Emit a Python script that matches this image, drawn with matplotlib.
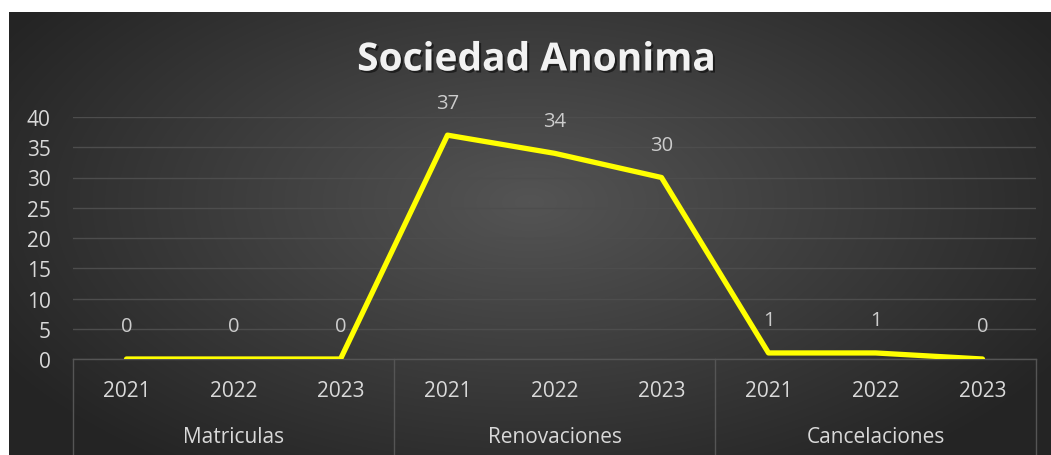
import numpy as np
import matplotlib.pyplot as plt
from matplotlib import patheffects
from matplotlib.transforms import blended_transform_factory

# Data
groups = ['Matriculas', 'Renovaciones', 'Cancelaciones']
years = ['2021', '2022', '2023']
values = [0, 0, 0, 37, 34, 30, 1, 1, 0]

W, H = 1051, 456
fig = plt.figure(figsize=(W / 100, H / 100), dpi=100)
fig.patch.set_facecolor('white')

# dark radial gradient background (chart area)
bg = fig.add_axes([9 / W, 0, (W - 9) / W, (H - 13) / H])
bg.set_axis_off()
yy, xx = np.mgrid[0:443, 0:1042]
r = np.sqrt(((xx - 520) / 620.0) ** 2 + ((yy - 190) / 330.0) ** 2)
shade = np.clip(0.33 - 0.19 * r, 0.145, 0.33)
bg.imshow(np.dstack([shade] * 3), aspect='auto', extent=[0, 1, 0, 1])

font = 'Open Sans'
txt = '#d9d9d9'

ax = fig.add_axes([73 / W, (H - 360) / H, (1036 - 73) / W, (360 - 118) / H])
ax.patch.set_alpha(0)
x = np.arange(len(values))
ax.plot(x, values, color='#ffff00', lw=3.8, solid_capstyle='round',
        solid_joinstyle='round', zorder=3)
for xi, v in zip(x, values):
    ax.annotate(str(v), (xi, v), xytext=(0, 23.5), textcoords='offset points',
                ha='center', va='center', color='#cccccc', fontsize=14.5,
                family=font)

ax.set_xlim(-0.5, len(values) - 0.5)
ax.set_ylim(0, 40)
ax.set_yticks(range(0, 41, 5))
ax.tick_params(axis='y', length=0, pad=16, labelsize=15, labelcolor=txt)
for lab in ax.get_yticklabels():
    lab.set_family(font)
ax.yaxis.grid(True, color='#4d4d4d', lw=1)
ax.set_axisbelow(True)
for s in ax.spines.values():
    s.set_visible(False)
ax.set_xticks(x)
ax.set_xticklabels([])
ax.tick_params(axis='x', length=0)

trans = blended_transform_factory(ax.transData, ax.transAxes)
axh = 242.0
for i in range(len(values)):
    ax.text(i, -32 / axh, years[i % 3], transform=trans, ha='center',
            va='center', color=txt, fontsize=15, family=font)
for g, name in enumerate(groups):
    ax.text(g * 3 + 1, -78 / axh, name, transform=trans, ha='center',
            va='center', color=txt, fontsize=15, family=font)
for b in [-0.5, 2.5, 5.5, 8.5]:
    ax.plot([b, b], [0, -96 / axh], transform=trans, color='#555555', lw=1,
            clip_on=False)
ax.plot([-0.5, 8.5], [0, 0], transform=trans, color='#555555', lw=1,
        clip_on=False, zorder=1)

fig.text(536 / W, 1 - 61 / H, 'Sociedad Anonima',
         ha='center', va='center', color='#f2f2f2', fontsize=28,
         fontweight='bold', family=font,
         path_effects=[patheffects.withSimplePatchShadow(offset=(1.5, -1.5),
                                                          shadow_rgbFace='black',
                                                          alpha=0.5)])

fig.savefig('out.png', dpi=100)
